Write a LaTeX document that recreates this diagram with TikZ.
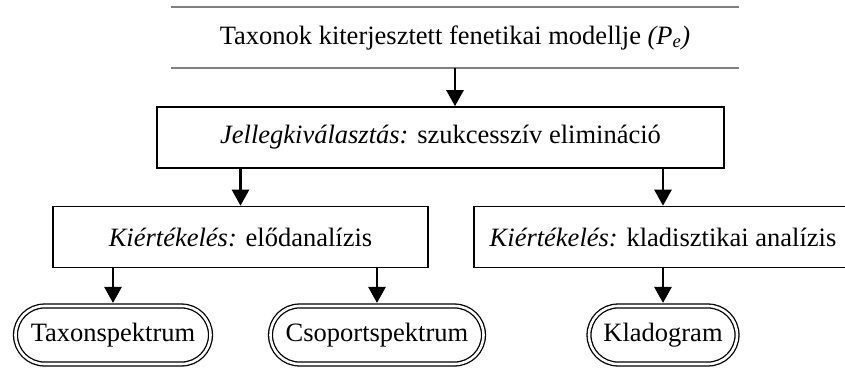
\documentclass[tikz,border=0pt]{standalone}
\usepackage{fontspec}
\setmainfont{Liberation Serif}
\usetikzlibrary{shapes.misc,arrows.meta}

\begin{document}
\begin{tikzpicture}[x=1pt,y=-1pt,
  font=\fontsize{26.5}{31}\selectfont,
  box/.style={rectangle,draw=black,line width=1.6pt,minimum height=61pt,inner sep=0pt},
  plainbox/.style={rectangle,minimum height=61pt,inner sep=0pt},
  result/.style={rounded rectangle,draw=black,line width=1.3pt,double=white,
    double distance=2.6pt,minimum height=58pt,inner sep=0pt},
  arr/.style={line width=2.5pt,-{Triangle[width=17pt,length=16pt]}},
  arrdbl/.style={arr,shorten >=2.4pt}]
\useasboundingbox (0,0) rectangle (845,370);
\clip (0,0) rectangle (845,370);

% model box: only top and bottom rules
\node[plainbox,minimum width=567pt] (model) at (455,37.5)
  {Taxonok kiterjesztett fenetikai modellje \textit{(P\textsubscript{e})}};
\draw[gray,line width=1.8pt] (model.north west) -- (model.north east)
  (model.south west) -- (model.south east);

\node[box,minimum width=567pt] (jelleg) at (440.5,137.5)
  {\textit{Jellegkiválasztás:} szukcesszív elimináció};

\node[box,minimum width=375pt] (elod) at (240.5,237)
  {\textit{Kiértékelés:} elődanalízis};
\node[box,minimum width=378pt] (klad) at (663,237)
  {\textit{Kiértékelés:} kladisztikai analízis};

\node[result,minimum width=195pt] (taxon) at (113,335) {Taxonspektrum};
\node[result,minimum width=213pt] (csoport) at (377,335) {Csoportspektrum};
\node[result,minimum width=148pt] (kladogram) at (663,335) {Kladogram};

% connectors
\draw[arr] (model.south) -- (model.south |- jelleg.north);
\draw[arr] (elod.north |- jelleg.south) -- (elod.north);
\draw[arr] (klad.north |- jelleg.south) -- (klad.north);
\draw[arrdbl] (taxon.north |- elod.south) -- (taxon.north);
\draw[arrdbl] (csoport.north |- elod.south) -- (csoport.north);
\draw[arrdbl] (kladogram.north |- klad.south) -- (kladogram.north);
\end{tikzpicture}
\end{document}
